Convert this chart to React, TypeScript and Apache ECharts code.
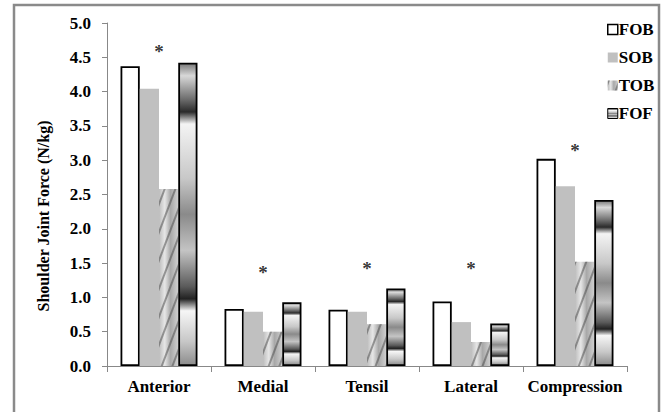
import React, { useEffect, useRef } from "react";
import * as echarts from "echarts";

const categories = ["Anterior", "Medial", "Tensil", "Lateral", "Compression"];
const fob = [4.37, 0.83, 0.82, 0.94, 3.02];
const sob = [4.04, 0.79, 0.79, 0.64, 2.62];
const tob = [2.58, 0.5, 0.61, 0.35, 1.52];
const fof = [4.42, 0.93, 1.13, 0.62, 2.42];
const starLevels = [4.58, 1.37, 1.42, 1.42, 3.14];
const yTicks = ["0.0", "0.5", "1.0", "1.5", "2.0", "2.5", "3.0", "3.5", "4.0", "4.5", "5.0"];

const FONT = "Liberation Serif";

export default function App() {
  const ref = useRef<HTMLDivElement>(null);
  useEffect(() => {
    if (!ref.current) return;
    const chart = echarts.init(ref.current, undefined, { renderer: "svg" });
    const tobGrad = new echarts.graphic.LinearGradient(0, 0, 1, 0, [
      { offset: 0, color: "#bdbdbd" },
      { offset: 0.3, color: "#e6e6e6" },
      { offset: 0.6, color: "#a8a8a8" },
      { offset: 1, color: "#d0d0d0" },
    ]);
    const fofGrad = new echarts.graphic.LinearGradient(0, 0, 0, 1, [
      { offset: 0, color: "#7a7a7a" },
      { offset: 0.04, color: "#d8d8d8" },
      { offset: 0.12, color: "#6a6a6a" },
      { offset: 0.16, color: "#2a2a2a" },
      { offset: 0.2, color: "#f4f4f4" },
      { offset: 0.38, color: "#c8c8c8" },
      { offset: 0.5, color: "#8a8a8a" },
      { offset: 0.62, color: "#c4c4c4" },
      { offset: 0.74, color: "#5a5a5a" },
      { offset: 0.78, color: "#222" },
      { offset: 0.82, color: "#f6f6f6" },
      { offset: 0.92, color: "#c8c8c8" },
      { offset: 1, color: "#8c8c8c" },
    ]);
    const option: any = {
      animation: false,
      backgroundColor: "#fff",
      textStyle: { fontFamily: FONT },
      grid: { left: 107, right: 40, top: 23, bottom: 46 },
      legend: {
        data: [
          { name: "FOB", icon: "rect", itemStyle: { borderWidth: 1.5 } },
          { name: "SOB", icon: "rect" },
          { name: "TOB", icon: "rect" },
          { name: "FOF", icon: "rect", itemStyle: { borderWidth: 1 } },
        ],
        orient: "vertical",
        left: 602,
        top: 16,
        itemWidth: 10,
        itemHeight: 10,
        itemGap: 11,
        textStyle: { fontFamily: FONT, fontWeight: "bold", fontSize: 17, color: "#000", padding: [0, 0, 0, -4] },
      },
      xAxis: {
        type: "category",
        data: categories,
        axisLine: { lineStyle: { color: "#888", width: 1 } },
        axisTick: { show: true, length: 6, lineStyle: { color: "#888" } },
        axisLabel: { interval: 0, fontFamily: FONT, fontWeight: "bold", fontSize: 17, color: "#000", margin: 12 },
      },
      yAxis: {
        type: "value",
        min: 0,
        max: 5,
        interval: 0.5,
        splitLine: { show: false },
        axisLine: { show: true, lineStyle: { color: "#888", width: 1 } },
        axisTick: { show: true, length: 5, lineStyle: { color: "#888" } },
        axisLabel: {
          fontFamily: FONT,
          fontWeight: "bold",
          fontSize: 17,
          color: "#000",
          margin: 16,
          formatter: (v: number) => yTicks[Math.round(v * 2)] ?? "",
        },
      },
      graphic: [
        {
          type: "rect",
          shape: { x: 14, y: 5, width: 645, height: 420 },
          style: { fill: "none", stroke: "#8a8a8a", lineWidth: 2.5 },
          silent: true,
          z: 100,
        },
        {
          type: "text",
          x: 43,
          y: 216,
          rotation: Math.PI / 2,
          style: {
            text: "Shoulder Joint Force (N/kg)",
            fontFamily: FONT,
            fontWeight: "bold",
            fontSize: 16,
            fill: "#000",
            align: "center",
            verticalAlign: "middle",
          },
        },
      ],
      series: [
        {
          name: "FOB",
          type: "bar",
          data: fob,
          barGap: "0%",
          barCategoryGap: "26%",
          itemStyle: { color: "#fff", borderColor: "#000", borderWidth: 1.8 },
        },
        {
          name: "SOB",
          type: "bar",
          data: sob,
          itemStyle: { color: "#c0c0c0" },
        },
        {
          name: "TOB",
          type: "bar",
          data: tob,
          itemStyle: {
            color: tobGrad,
            decal: {
              symbol: "rect",
              dashArrayX: [1, 0],
              dashArrayY: [2, 8],
              rotation: -Math.PI / 2.6,
              color: "rgba(70,70,70,0.5)",
            },
          },
        },
        {
          name: "FOF",
          type: "bar",
          data: fof,
          itemStyle: { color: fofGrad, borderColor: "#000", borderWidth: 1.8 },
        },
        {
          name: "sig",
          type: "scatter",
          data: starLevels,
          symbolSize: 0,
          silent: true,
          label: {
            show: true,
            position: "inside",
            formatter: "*",
            fontFamily: FONT,
            fontWeight: "bold",
            fontSize: 19,
            color: "#000",
          },
        },
      ],
    };
    chart.setOption(option);
    return () => chart.dispose();
  }, []);
  return (
    <div
      ref={ref}
      style={{ position: "fixed", left: 0, top: 0, width: 667, height: 412 }}
    />
  );
}
